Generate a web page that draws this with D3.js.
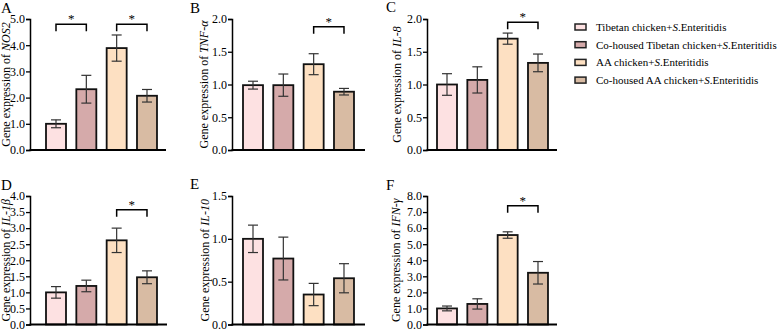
<!DOCTYPE html>
<html>
<head>
<meta charset="utf-8">
<style>
body { margin: 0; background: #fff; }
</style>
</head>
<body>
<script src="https://cdn.jsdelivr.net/npm/d3@7"></script>
<script>

var serif = "'Liberation Serif'";

// groups and colours
var groups = ["Tibetan chicken", "Co-housed Tibetan chicken", "AA chicken", "Co-housed AA chicken"];
var colors = ["#fde1e2", "#d5aaaa", "#fde0c2", "#d8bba3"];

// gene expression (mean, sem)
var nos2Mean = [1.0, 2.32, 3.89, 2.07];
var nos2Err  = [0.15, 0.53, 0.50, 0.24];
var tnfMean  = [0.99, 0.99, 1.31, 0.89];
var tnfErr   = [0.06, 0.17, 0.16, 0.05];
var il8Mean  = [1.0, 1.07, 1.70, 1.33];
var il8Err   = [0.165, 0.20, 0.085, 0.135];
var il1bMean = [1.0, 1.20, 2.62, 1.47];
var il1bErr  = [0.18, 0.18, 0.38, 0.20];
var il10Mean = [1.0, 0.77, 0.35, 0.54];
var il10Err  = [0.16, 0.25, 0.13, 0.17];
var ifnMean  = [1.0, 1.28, 5.57, 3.22];
var ifnErr   = [0.15, 0.32, 0.20, 0.70];

// y ticks
var nos2Ticks = [0, 1, 2, 3, 4, 5];
var tnfTicks  = [0, 0.5, 1, 1.5, 2];
var il8Ticks  = [0, 0.5, 1, 1.5, 2];
var il1bTicks = [0, 0.5, 1, 1.5, 2, 2.5, 3, 3.5, 4];
var il10Ticks = [0, 0.5, 1, 1.5];
var ifnTicks  = [0, 1, 2, 3, 4, 5, 6, 7, 8];

// significance brackets: [from, to, level]
var nos2Sig = [[0, 1, 4.8], [2, 3, 4.8]];
var tnfSig  = [[2, 3, 1.88]];
var il8Sig  = [[2, 3, 1.95]];
var il1bSig = [[2, 3, 3.57]];
var il10Sig = [];
var ifnSig  = [[2, 3, 7.39]];

var panels = [
  {label: "A", gene: "NOS2",  mean: nos2Mean, err: nos2Err, ticks: nos2Ticks, sig: nos2Sig,
   ax: 30, bar0: 46, xend: 166, top: 19, bottom: 150, toff: 20},
  {label: "B", gene: "TNF-α", mean: tnfMean, err: tnfErr, ticks: tnfTicks, sig: tnfSig,
   ax: 232, bar0: 243, xend: 365, top: 19, bottom: 150, toff: 24.5},
  {label: "C", gene: "IL-8",  mean: il8Mean, err: il8Err, ticks: il8Ticks, sig: il8Sig,
   ax: 427, bar0: 437, xend: 557, top: 19, bottom: 150, toff: 26.5},
  {label: "D", gene: "IL-1β", mean: il1bMean, err: il1bErr, ticks: il1bTicks, sig: il1bSig,
   ax: 30, bar0: 46, xend: 167, top: 196, bottom: 324.5, toff: 20},
  {label: "E", gene: "IL-10", mean: il10Mean, err: il10Err, ticks: il10Ticks, sig: il10Sig,
   ax: 232, bar0: 243, xend: 365, top: 196, bottom: 324.5, toff: 23},
  {label: "F", gene: "IFN-γ", mean: ifnMean, err: ifnErr, ticks: ifnTicks, sig: ifnSig,
   ax: 427, bar0: 437, xend: 557, top: 196, bottom: 324.5, toff: 27}
];

var labelPos = {A: [1, 13], B: [190, 13], C: [386, 12], D: [1, 190], E: [190, 189], F: [386, 190]};

var width = 778, height = 331;

var svg = d3.select("body").append("svg")
    .attr("width", width)
    .attr("height", height);

panels.forEach(function(p) {
  var g = svg.append("g");

  var y = d3.scaleLinear()
      .domain([0, d3.max(p.ticks)])
      .range([p.bottom, p.top]);

  var step = 30.33, bw = 20;
  var x = d3.scaleBand()
      .domain(d3.range(4))
      .range([p.bar0, p.bar0 + 3 * step + bw])
      .paddingInner(1 - bw / step)
      .paddingOuter(0);

  // bars
  g.selectAll("rect.bar")
    .data(p.mean)
    .enter().append("rect")
      .attr("class", "bar")
      .attr("x", function(d, i) { return x(i); })
      .attr("y", function(d) { return y(d); })
      .attr("width", x.bandwidth())
      .attr("height", function(d) { return y(0) - y(d); })
      .style("fill", function(d, i) { return colors[i]; })
      .style("stroke", "#111")
      .style("stroke-width", 1.8);

  // error bars
  var eb = g.selectAll("g.err")
    .data(p.mean)
    .enter().append("g")
      .attr("class", "err");
  var cx = function(i) { return x(i) + x.bandwidth() / 2; };
  eb.append("line")
      .attr("x1", function(d, i) { return cx(i); })
      .attr("x2", function(d, i) { return cx(i); })
      .attr("y1", function(d, i) { return y(d - p.err[i]); })
      .attr("y2", function(d, i) { return y(d + p.err[i]); });
  eb.append("line")
      .attr("x1", function(d, i) { return cx(i) - 5; })
      .attr("x2", function(d, i) { return cx(i) + 5; })
      .attr("y1", function(d, i) { return y(d + p.err[i]); })
      .attr("y2", function(d, i) { return y(d + p.err[i]); });
  eb.append("line")
      .attr("x1", function(d, i) { return cx(i) - 5; })
      .attr("x2", function(d, i) { return cx(i) + 5; })
      .attr("y1", function(d, i) { return y(d - p.err[i]); })
      .attr("y2", function(d, i) { return y(d - p.err[i]); });
  eb.selectAll("line")
      .style("stroke", "#333")
      .style("stroke-width", 1.2);

  // y axis
  var yAxis = g.append("g")
      .attr("transform", "translate(" + p.ax + ",0)")
      .call(d3.axisLeft(y).tickValues(p.ticks).tickFormat(d3.format(".1f")).tickSize(4).tickPadding(1));
  yAxis.attr("font-family", null).attr("font-size", null);
  yAxis.select(".domain").style("stroke", "#000").style("stroke-width", 1.5);
  yAxis.selectAll(".tick line").style("stroke", "#000").style("stroke-width", 1.3);
  yAxis.selectAll(".tick text")
      .style("font-family", serif)
      .style("font-size", "12px")
      .style("fill", "#000");

  // x axis baseline
  g.append("line")
      .attr("x1", p.ax - 0.5)
      .attr("x2", p.xend)
      .attr("y1", y(0))
      .attr("y2", y(0))
      .style("stroke", "#000")
      .style("stroke-width", 2);

  // y title
  var t = g.append("text")
      .attr("text-anchor", "middle")
      .style("font-family", serif)
      .style("font-size", "12px")
      .attr("transform", "translate(" + (p.ax - p.toff) + "," + ((p.top + p.bottom) / 2) + ") rotate(-90)");
  t.append("tspan").text("Gene expression of ");
  t.append("tspan").style("font-style", "italic").text(p.gene);

  // significance
  p.sig.forEach(function(s) {
    var x1 = cx(s[0]), x2 = cx(s[1]), yy = y(s[2]);
    g.append("path")
        .attr("d", "M" + x1 + "," + (yy + 7) + "V" + yy + "H" + x2 + "V" + (yy + 7))
        .style("fill", "none")
        .style("stroke", "#000")
        .style("stroke-width", 1.5);
    g.append("text")
        .attr("x", (x1 + x2) / 2)
        .attr("y", yy - 1)
        .attr("text-anchor", "middle")
        .style("font-family", serif)
        .style("font-size", "13px")
        .text("*");
  });

  // panel label
  svg.append("text")
      .attr("x", labelPos[p.label][0])
      .attr("y", labelPos[p.label][1])
      .style("font-family", serif)
      .style("font-size", "15px")
      .text(p.label);
});

// legend
var legend = svg.append("g");
groups.forEach(function(name, i) {
  var ly = 27 + i * 17.7;
  legend.append("rect")
      .attr("x", 575)
      .attr("y", ly - 3)
      .attr("width", 11)
      .attr("height", 6)
      .style("fill", colors[i])
      .style("stroke", "#222")
      .style("stroke-width", 1.5);
  var t = legend.append("text")
      .attr("x", 596)
      .attr("y", ly + 4)
      .style("font-family", serif)
      .style("font-size", "11px");
  t.append("tspan").text(name + "+");
  t.append("tspan").style("font-style", "italic").text("S");
  t.append("tspan").text(".Enteritidis");
});

</script>
</body>
</html>
